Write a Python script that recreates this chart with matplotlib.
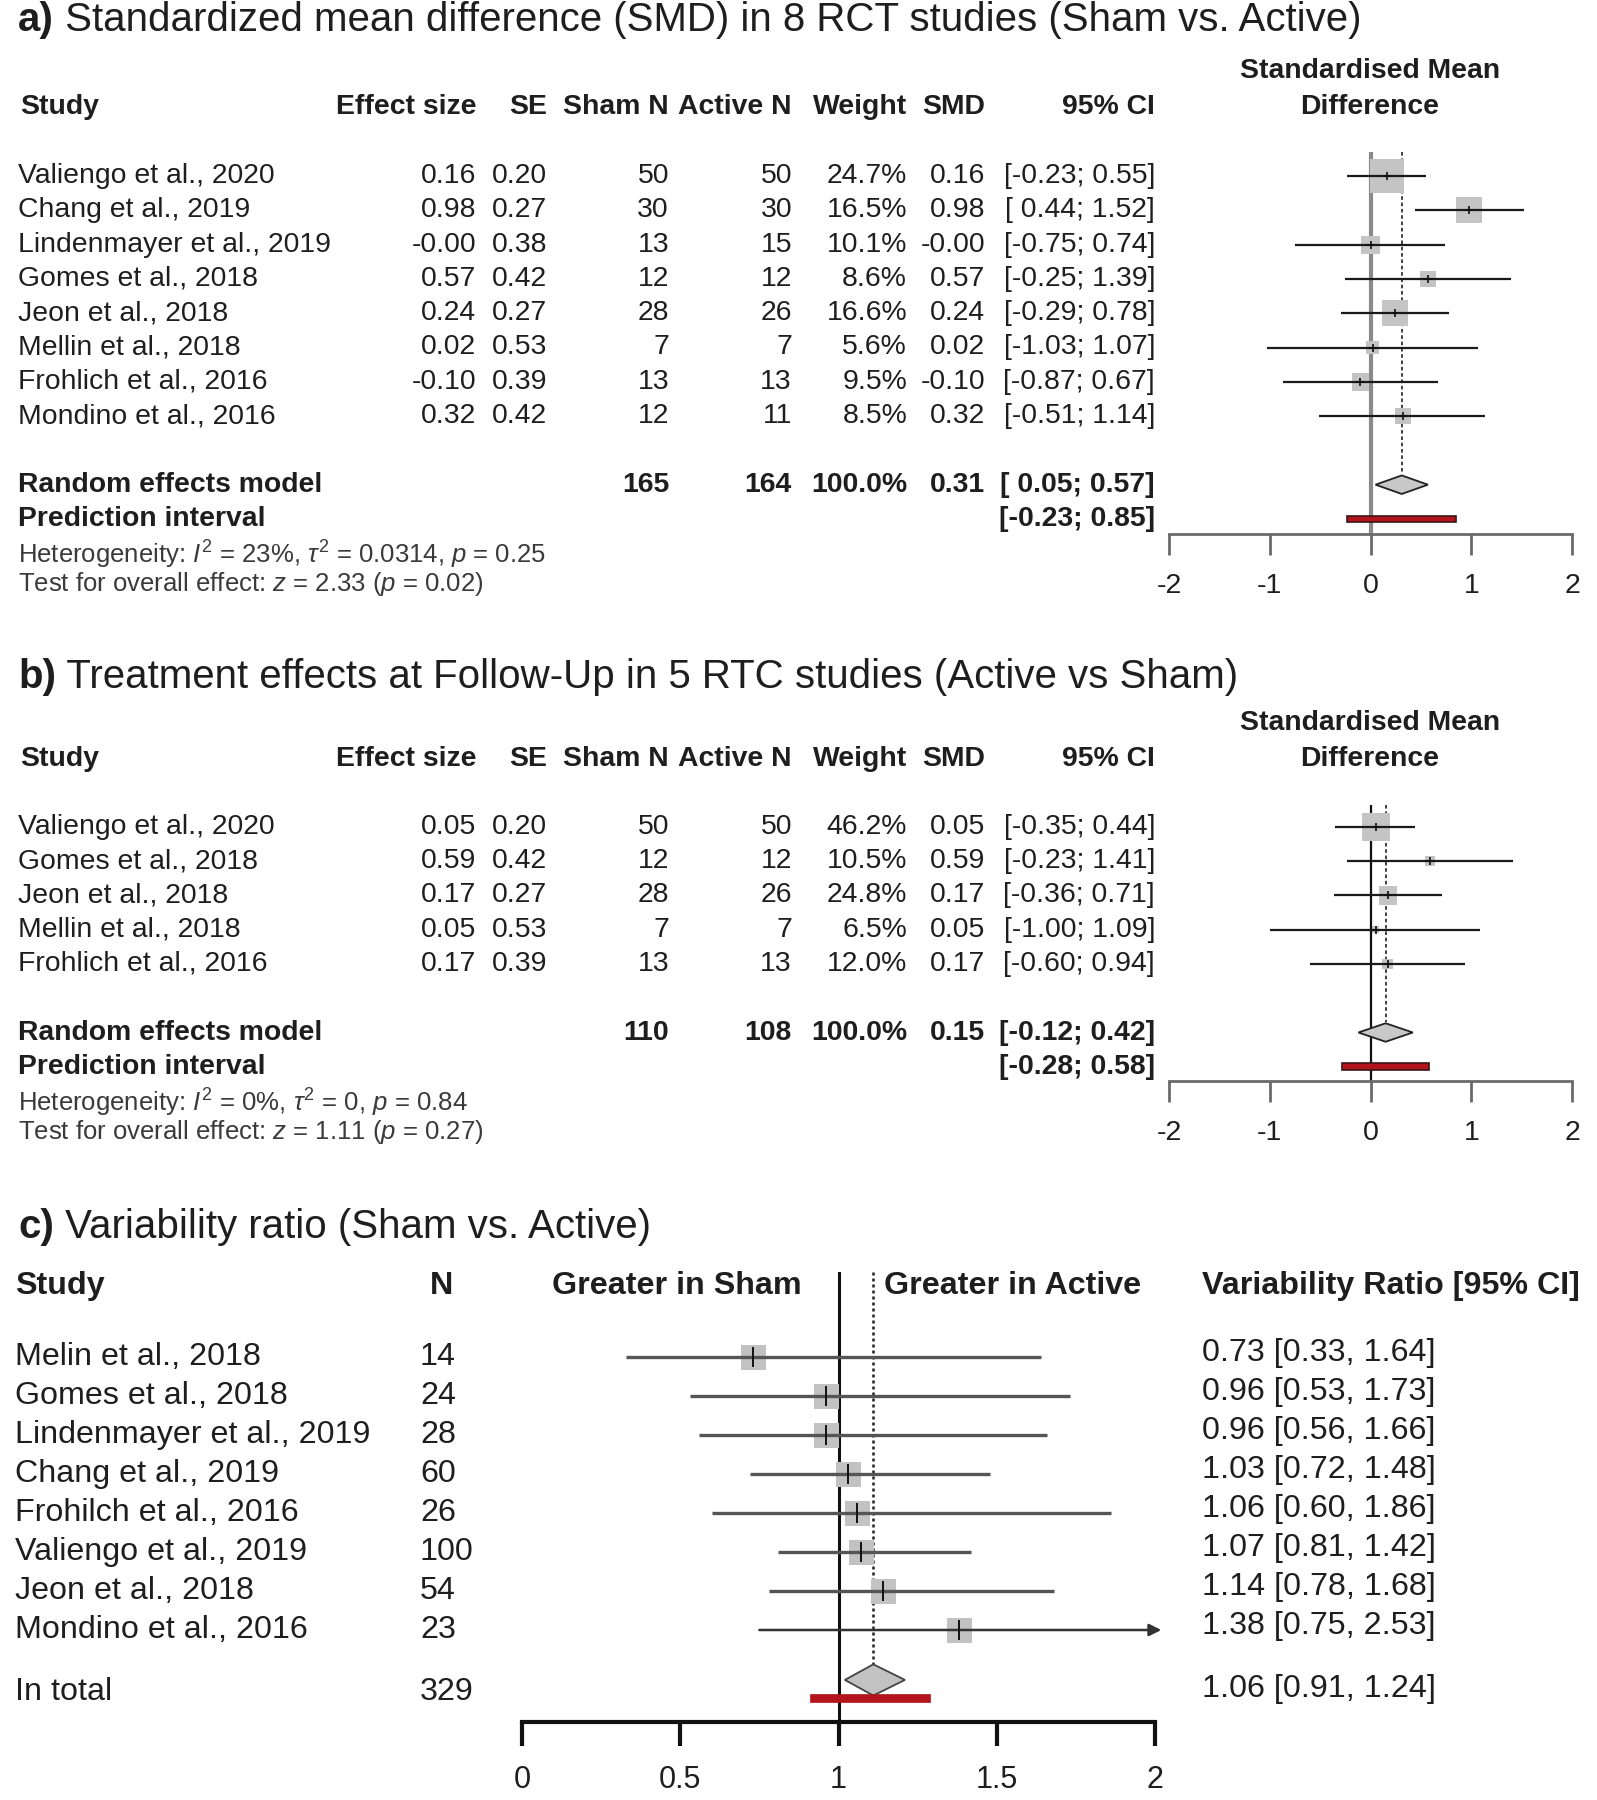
import numpy as np
import matplotlib.pyplot as plt
from matplotlib import transforms as mtransforms
from matplotlib.text import Annotation

plt.rcParams['font.family'] = ['Liberation Sans', 'DejaVu Sans']
plt.rcParams['mathtext.fontset'] = 'custom'
plt.rcParams['mathtext.rm'] = 'Liberation Sans'
plt.rcParams['mathtext.it'] = 'Liberation Sans:italic'
plt.rcParams['mathtext.bf'] = 'Liberation Sans:bold'
plt.rcParams['axes.unicode_minus'] = False

W, H = 1597, 1800
TXT = '#1e1e1e'
RED = '#b3141c'
SQ = '#c4c4c4'

# ---- panel a: SMD, 8 RCT studies
a_studies = ['Valiengo et al., 2020', 'Chang et al., 2019', 'Lindenmayer et al., 2019',
             'Gomes et al., 2018', 'Jeon et al., 2018', 'Mellin et al., 2018',
             'Frohlich et al., 2016', 'Mondino et al., 2016']
a_es = [0.16, 0.98, -0.0, 0.57, 0.24, 0.02, -0.10, 0.32]
a_se = [0.20, 0.27, 0.38, 0.42, 0.27, 0.53, 0.39, 0.42]
a_sham_n = [50, 30, 13, 12, 28, 7, 13, 12]
a_active_n = [50, 30, 15, 12, 26, 7, 13, 11]
a_weight = [24.7, 16.5, 10.1, 8.6, 16.6, 5.6, 9.5, 8.5]
a_lo = [-0.23, 0.44, -0.75, -0.25, -0.29, -1.03, -0.87, -0.51]
a_hi = [0.55, 1.52, 0.74, 1.39, 0.78, 1.07, 0.67, 1.14]
a_pooled = [0.31, 0.05, 0.57]
a_pred = [-0.23, 0.85]
a_totals = [165, 164]
a_het = r'Heterogeneity: $I^2$ = 23%, $\tau^2$ = 0.0314, $p$ = 0.25'
a_test = r'Test for overall effect: $z$ = 2.33 ($p$ = 0.02)'

# ---- panel b: follow-up, 5 studies
b_studies = ['Valiengo et al., 2020', 'Gomes et al., 2018', 'Jeon et al., 2018',
             'Mellin et al., 2018', 'Frohlich et al., 2016']
b_es = [0.05, 0.59, 0.17, 0.05, 0.17]
b_se = [0.20, 0.42, 0.27, 0.53, 0.39]
b_sham_n = [50, 12, 28, 7, 13]
b_active_n = [50, 12, 26, 7, 13]
b_weight = [46.2, 10.5, 24.8, 6.5, 12.0]
b_lo = [-0.35, -0.23, -0.36, -1.00, -0.60]
b_hi = [0.44, 1.41, 0.71, 1.09, 0.94]
b_pooled = [0.15, -0.12, 0.42]
b_pred = [-0.28, 0.58]
b_totals = [110, 108]
b_het = r'Heterogeneity: $I^2$ = 0%, $\tau^2$ = 0, $p$ = 0.84'
b_test = r'Test for overall effect: $z$ = 1.11 ($p$ = 0.27)'

# ---- panel c: variability ratio
c_studies = ['Melin et al., 2018', 'Gomes et al., 2018', 'Lindenmayer et al., 2019',
             'Chang et al., 2019', 'Frohilch et al., 2016', 'Valiengo et al., 2019',
             'Jeon et al., 2018', 'Mondino et al., 2016']
c_n = [14, 24, 28, 60, 26, 100, 54, 23]
c_vr = [0.73, 0.96, 0.96, 1.03, 1.06, 1.07, 1.14, 1.38]
c_lo = [0.33, 0.53, 0.56, 0.72, 0.60, 0.81, 0.78, 0.75]
c_hi = [1.64, 1.73, 1.66, 1.48, 1.86, 1.42, 1.68, 2.53]
c_total_n = 329
c_pooled = [1.06, 0.91, 1.24]
# diamond / prediction bar as drawn in the figure
c_diamond = [1.02, 1.11, 1.21]
c_predbar = [0.91, 1.29]

smd_ticks = [-2, -1, 0, 1, 2]
vr_ticks = [0, 0.5, 1, 1.5, 2]

fig = plt.figure(figsize=(W / 100, H / 100), dpi=100)
fig.patch.set_facecolor('white')


def px_axes(left, right, top, bottom):
    return fig.add_axes([left / W, 1 - bottom / H, (right - left) / W, (bottom - top) / H])


def title(y, tag, rest):
    t = fig.text(18 / W, 1 - y / H, tag, fontsize=29, fontweight='bold', color=TXT,
                 va='center', ha='left')
    fig.add_artist(Annotation(' ' + rest, xy=(1, 0.5), xycoords=t, va='center',
                              ha='left', fontsize=29, color=TXT))


def smd_panel(top, bottom, row0, dy, studies, es, se, sham, active, weight, lo, hi,
              pooled, pred, totals, het, test, max_side, zero_col, zero_lw):
    ax = px_axes(1169, 1572, top, bottom)
    ax.set_xlim(-2, 2)
    ax.set_ylim((bottom - row0) / dy, (top - row0) / dy)
    n = len(studies)
    rows = np.arange(n)
    tr = mtransforms.blended_transform_factory(fig.transFigure, ax.transData)
    fs = 20.4

    # header
    ax.text(1370 / W, -3.05, 'Standardised Mean', transform=tr, ha='center', va='center',
            fontsize=20.4, fontweight='bold', color=TXT)
    ax.text(1370 / W, -2, 'Difference', transform=tr, ha='center', va='center',
            fontsize=20.4, fontweight='bold', color=TXT)
    ax.text(20 / W, -2, 'Study', transform=tr, ha='left', va='center',
            fontsize=fs, fontweight='bold', color=TXT)
    cols = [476, 547, 669, 792, 907, 985, 1155]
    heads = ['Effect size', 'SE', 'Sham N', 'Active N', 'Weight', 'SMD', '95% CI']
    for x, h in zip(cols, heads):
        ax.text(x / W, -2, h, transform=tr, ha='right', va='center', fontsize=fs,
                fontweight='bold', color=TXT)

    # study rows
    for i in range(n):
        vals = [f'{es[i]:.2f}', f'{se[i]:.2f}', f'{sham[i]}', f'{active[i]}',
                f'{weight[i]:.1f}%', f'{es[i]:.2f}', f'[{lo[i]:5.2f}; {hi[i]:.2f}]']
        ax.text(18 / W, i, studies[i], transform=tr, ha='left', va='center',
                fontsize=fs, color=TXT)
        for x, v in zip(cols, vals):
            ax.text(x / W, i, v, transform=tr, ha='right', va='center', fontsize=fs,
                    color=TXT)

    r_model = n + 1
    r_pred = n + 2
    ax.text(18 / W, r_model, 'Random effects model', transform=tr, ha='left',
            va='center', fontsize=fs, fontweight='bold', color=TXT)
    ax.text(18 / W, r_pred, 'Prediction interval', transform=tr, ha='left',
            va='center', fontsize=fs, fontweight='bold', color=TXT)
    model_vals = [(669, f'{totals[0]}'), (792, f'{totals[1]}'), (907, '100.0%'),
                  (985, f'{pooled[0]:.2f}'),
                  (1155, f'[{pooled[1]:5.2f}; {pooled[2]:.2f}]')]
    for x, v in model_vals:
        ax.text(x / W, r_model, v, transform=tr, ha='right', va='center', fontsize=fs,
                fontweight='bold', color=TXT)
    ax.text(1155 / W, r_pred, f'[{pred[0]:5.2f}; {pred[1]:.2f}]', transform=tr,
            ha='right', va='center', fontsize=fs, fontweight='bold', color=TXT)
    ax.text(18 / W, r_pred + 1.05, het, transform=tr, ha='left', va='center',
            fontsize=18.5, color='#3a3a3a')
    ax.text(18 / W, r_pred + 1.9, test, transform=tr, ha='left', va='center',
            fontsize=18.5, color='#3a3a3a')

    # reference lines
    ax.axvline(0, color=zero_col, lw=zero_lw, zorder=1)
    ax.vlines(pooled[0], (top - row0) / dy, r_model - 0.3, color='#333333', lw=1.3,
              linestyles=(0, (2, 1.5)), zorder=1)

    # squares + CIs
    w = np.array(weight)
    side = max_side * (w / w.max()) ** 0.7 * 0.72
    ax.scatter(es, rows, s=side ** 2, marker='s', color=SQ, zorder=2, linewidths=0)
    ax.hlines(rows, lo, hi, color='#1a1a1a', lw=1.6, zorder=3)
    ax.plot(es, rows, '+', color='#111111', ms=6, mew=1.2, zorder=4)

    # diamond + prediction interval
    h = 0.27
    ax.fill([pooled[1], pooled[0], pooled[2], pooled[0]],
            [r_model, r_model - h, r_model, r_model + h],
            facecolor='#c8c8c8', edgecolor='#222222', lw=1.3, zorder=3)
    ax.barh(r_pred, pred[1] - pred[0], left=pred[0], height=0.2, color=RED,
            edgecolor='#3a1515', lw=1.2, zorder=3)

    for s in ['top', 'left', 'right']:
        ax.spines[s].set_visible(False)
    ax.spines['bottom'].set_color('#6a6a6a')
    ax.spines['bottom'].set_linewidth(2)
    ax.set_yticks([])
    ax.set_xticks(smd_ticks)
    ax.set_xticklabels([f'{t}' for t in smd_ticks])
    ax.tick_params(axis='x', length=15, width=2, color='#6a6a6a', pad=13,
                   labelsize=20.5, labelcolor=TXT)
    ax.patch.set_alpha(0)
    return ax


title(20, 'a)', 'Standardized mean difference (SMD) in 8 RCT studies (Sham vs. Active)')
smd_panel(152, 534, 176, 34.3, a_studies, a_es, a_se, a_sham_n, a_active_n, a_weight,
          a_lo, a_hi, a_pooled, a_pred, a_totals, a_het, a_test, 34, '#8a8a8a', 3)

title(677, 'b)', 'Treatment effects at Follow-Up in 5 RTC studies (Active vs Sham)')
smd_panel(805, 1081, 827, 34.25, b_studies, b_es, b_se, b_sham_n, b_active_n, b_weight,
          b_lo, b_hi, b_pooled, b_pred, b_totals, b_het, b_test, 28, '#111111', 1.6)

# ---- panel c
title(1227, 'c)', 'Variability ratio (Sham vs. Active)')
top, bottom, row0, dy = 1272, 1722, 1357, 39.0
ax = px_axes(522, 1155, top, bottom)
ax.set_xlim(0, 2)
ax.set_ylim((bottom - row0) / dy, (top - row0) / dy)
tr = mtransforms.blended_transform_factory(fig.transFigure, ax.transData)
fs = 23.2
n = len(c_studies)
rows = np.arange(n)

hdr = -1.82
ax.text(15 / W, hdr, 'Study', transform=tr, ha='left', va='center', fontsize=fs,
        fontweight='bold', color=TXT)
ax.text(441 / W, hdr, 'N', transform=tr, ha='center', va='center', fontsize=fs,
        fontweight='bold', color=TXT)
ax.text(677 / W, hdr, 'Greater in Sham', transform=tr, ha='center', va='center',
        fontsize=fs, fontweight='bold', color=TXT)
ax.text(884 / W, hdr, 'Greater in Active', transform=tr, ha='left', va='center',
        fontsize=fs, fontweight='bold', color=TXT)
ax.text(1202 / W, hdr, 'Variability Ratio [95% CI]', transform=tr, ha='left',
        va='center', fontsize=fs, fontweight='bold', color=TXT)

for i in range(n):
    ax.text(15 / W, i, c_studies[i], transform=tr, ha='left', va='center', fontsize=fs,
            color=TXT)
    ax.text(420 / W, i, f'{c_n[i]}', transform=tr, ha='left', va='center', fontsize=fs,
            color=TXT)
    ax.text(1202 / W, i - 0.1, f'{c_vr[i]:.2f} [{c_lo[i]:.2f}, {c_hi[i]:.2f}]',
            transform=tr, ha='left', va='center', fontsize=fs, color=TXT)

r_tot = 8.6
ax.text(15 / W, r_tot, 'In total', transform=tr, ha='left', va='center', fontsize=fs,
        color=TXT)
ax.text(420 / W, r_tot, f'{c_total_n}', transform=tr, ha='left', va='center',
        fontsize=fs, color=TXT)
ax.text(1202 / W, r_tot - 0.1, f'{c_pooled[0]:.2f} [{c_pooled[1]:.2f}, {c_pooled[2]:.2f}]',
        transform=tr, ha='left', va='center', fontsize=fs, color=TXT)

ax.axvline(1, color='#111111', lw=2.2, zorder=1)
ax.vlines(c_diamond[1], (top - row0) / dy, 8.28 - 0.4, color='#222222', lw=1.8,
          linestyles=(0, (1.2, 1.2)), zorder=1)

xmax = ax.get_xlim()[1]
for i in range(n):
    if c_hi[i] > xmax:
        ax.annotate('', xy=(xmax + 0.02, i), xytext=(c_lo[i], i),
                    arrowprops=dict(arrowstyle='-|>', color='#333333', lw=1.8,
                                    mutation_scale=18, shrinkA=0, shrinkB=0),
                    annotation_clip=False, zorder=3)
    else:
        ax.hlines(i, c_lo[i], c_hi[i], color='#555555', lw=2.4, zorder=3)
ax.scatter(c_vr, rows, s=(25 * 0.72) ** 2, marker='s', color='#c2c2c2', zorder=2,
           linewidths=0)
ax.plot(c_vr, rows, '|', color='#111111', ms=14, mew=1.4, zorder=4)

hd = 0.4
ax.fill([c_diamond[0], c_diamond[1], c_diamond[2], c_diamond[1]],
        [8.28, 8.28 - hd, 8.28, 8.28 + hd],
        facecolor='#c2c2c2', edgecolor='#444444', lw=1.3, zorder=3)
ax.barh(8.75, c_predbar[1] - c_predbar[0], left=c_predbar[0], height=0.2, color=RED,
        edgecolor=RED, lw=0.5, zorder=3)

for s in ['top', 'left', 'right']:
    ax.spines[s].set_visible(False)
ax.spines['bottom'].set_color('#111111')
ax.spines['bottom'].set_linewidth(3)
ax.set_yticks([])
ax.set_xticks(vr_ticks)
ax.set_xticklabels([f'{t:g}' for t in vr_ticks])
ax.tick_params(axis='x', length=17, width=3, color='#111111', pad=14, labelsize=22,
               labelcolor=TXT)
ax.patch.set_alpha(0)

fig.savefig('out.png', dpi=100, facecolor='white')
